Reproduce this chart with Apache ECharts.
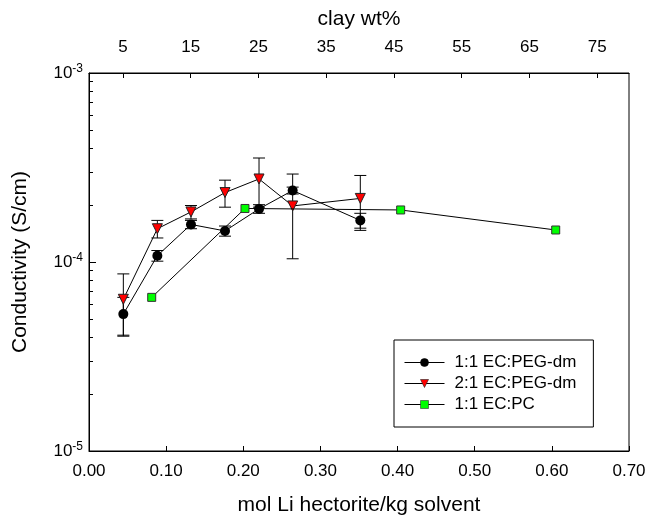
<!DOCTYPE html>
<html>
<head>
<meta charset="utf-8">
<script src="https://cdn.jsdelivr.net/npm/echarts@6/dist/echarts.min.js"></script>
<style>html,body{margin:0;padding:0;background:#fff}#c{width:647px;height:515px}</style>
</head>
<body>
<div id="c"></div>
<script>
// ---- data ----
const xBlack = [0.0445, 0.0886, 0.1322, 0.1763, 0.2204, 0.264, 0.3517];
const yBlack = [5.3e-5, 1.08e-4, 1.58e-4, 1.46e-4, 1.91e-4, 2.39e-4, 1.66e-4];
const errBlack = [1.2e-5, 0.07e-4, 0.08e-4, 0.09e-4, 0.10e-4, 0.10e-4, 0.15e-4];

const xRed = [0.0445, 0.0886, 0.1322, 0.1763, 0.2204, 0.264, 0.3517];
const yRed = [6.35e-5, 1.50e-4, 1.84e-4, 2.33e-4, 2.75e-4, 1.98e-4, 2.17e-4];
const errRed = [2.3e-5, 0.16e-4, 0.15e-4, 0.38e-4, 0.80e-4, 0.94e-4, 0.70e-4];

const xGreen = [0.0813, 0.2022, 0.404, 0.605];
const yGreen = [6.5e-5, 1.92e-4, 1.885e-4, 1.477e-4];

const seriesNames = ['1:1 EC:PEG-dm', '2:1 EC:PEG-dm', '1:1 EC:PC'];
const topTicks = [5, 15, 25, 35, 45, 55, 65, 75];
const yMajor = [1e-5, 1e-4, 1e-3];
const yMinor = [2e-5,3e-5,4e-5,5e-5,6e-5,7e-5,8e-5,9e-5,2e-4,3e-4,4e-4,5e-4,6e-4,7e-4,8e-4,9e-4];

const FONT = 'Liberation Sans, Arial, sans-serif';
const pts = (xs, ys) => xs.map((x, i) => [x, ys[i]]);
const errs = (xs, ys, es) => xs.map((x, i) => [x, ys[i] - es[i], ys[i] + es[i]]);

function errRender(params, api) {
  const x = api.value(0), lo = api.value(1), hi = api.value(2);
  const a = api.coord([x, lo]), b = api.coord([x, hi]);
  const w = 6, st = {stroke: '#000', lineWidth: 1};
  return {type: 'group', children: [
    {type: 'line', shape: {x1: a[0], y1: a[1], x2: b[0], y2: b[1]}, style: st},
    {type: 'line', shape: {x1: a[0]-w, y1: a[1], x2: a[0]+w, y2: a[1]}, style: st},
    {type: 'line', shape: {x1: b[0]-w, y1: b[1], x2: b[0]+w, y2: b[1]}, style: st}
  ]};
}

const chart = echarts.init(document.getElementById('c'), null, {renderer: 'canvas'});
const option = {
  animation: false,
  backgroundColor: '#fff',
  textStyle: {fontFamily: FONT, color: '#000'},
  grid: {left: 89, right: 18, top: 73, bottom: 64, show: true, borderColor: '#000', borderWidth: 1, outerBoundsMode: 'none', containLabel: false},
  xAxis: [
    {type: 'value', position: 'bottom', min: 0, max: 0.7, interval: 0.1,
     name: 'mol Li hectorite/kg solvent', nameLocation: 'middle', nameGap: 44,
     nameTextStyle: {fontSize: 21, color: '#000', fontFamily: FONT},
     axisLine: {show: true, lineStyle: {color: '#000', width: 1}},
     axisTick: {show: true, inside: true, length: 5, lineStyle: {color: '#000'}},
     axisLabel: {fontSize: 17, color: '#000', margin: 12, fontFamily: FONT, formatter: v => v.toFixed(2)},
     splitLine: {show: false}},
    {type: 'value', position: 'top', min: 0, max: 79.7,
     name: 'clay wt%', nameLocation: 'middle', nameGap: 43,
     nameTextStyle: {fontSize: 21, color: '#000', fontFamily: FONT},
     axisLine: {show: true, lineStyle: {color: '#000', width: 1}},
     axisTick: {show: true, inside: true, length: 5, customValues: topTicks, lineStyle: {color: '#000'}},
     axisLabel: {fontSize: 17, color: '#000', margin: 17, fontFamily: FONT, customValues: topTicks},
     splitLine: {show: false}}
  ],
  yAxis: [
    {type: 'log', logBase: 10, min: 1e-5, max: 1e-3, position: 'left',
     name: 'Conductivity (S/cm)', nameLocation: 'middle', nameGap: 58, nameRotate: 90,
     nameTextStyle: {fontSize: 21, color: '#000', fontFamily: FONT},
     axisLine: {show: true, lineStyle: {color: '#000', width: 1}},
     axisTick: {show: true, inside: true, length: 7, customValues: yMajor, lineStyle: {color: '#000'}},
     axisLabel: {color: '#000', margin: 6, customValues: yMajor,
       formatter: v => '{b|10}{s|' + Math.round(Math.log10(v)) + '}',
       rich: {b: {fontSize: 17, fontFamily: FONT, color: '#000'},
              s: {fontSize: 12, fontFamily: FONT, color: '#000', verticalAlign: 'top', padding: [0,0,8,0]}}},
     splitLine: {show: false}},
    {type: 'log', logBase: 10, min: 1e-5, max: 1e-3, position: 'left', offset: 0,
     axisLine: {show: false},
     axisTick: {show: true, inside: true, length: 4, customValues: yMinor, lineStyle: {color: '#000'}},
     axisLabel: {show: false},
     splitLine: {show: false}}
  ],
  legend: {
    show: true, orient: 'vertical', left: 394, top: 340,
    data: seriesNames,
    backgroundColor: '#fff', borderColor: '#000', borderWidth: 1,
    padding: [14, 17, 14, 10], itemGap: 4, itemWidth: 40, itemHeight: 10,
    lineStyle: {width: 1},
    itemStyle: {borderWidth: 0.6},
    textStyle: {fontSize: 17, fontFamily: FONT, color: '#000', padding: [0, 0, 0, 5]}
  },
  series: [
    {type: 'custom', name: 'errBlack', renderItem: errRender, xAxisIndex: 0, yAxisIndex: 0,
     encode: {x: 0, y: [1, 2]}, data: errs(xBlack, yBlack, errBlack), z: 1, silent: true},
    {type: 'custom', name: 'errRed', renderItem: errRender, xAxisIndex: 0, yAxisIndex: 0,
     encode: {x: 0, y: [1, 2]}, data: errs(xRed, yRed, errRed), z: 1, silent: true},
    {type: 'line', name: seriesNames[0], xAxisIndex: 0, yAxisIndex: 0, data: pts(xBlack, yBlack),
     symbol: 'circle', symbolSize: 10, showAllSymbol: true, z: 3,
     lineStyle: {color: '#000', width: 1}, itemStyle: {color: '#000', borderColor: '#000', borderWidth: 0}},
    {type: 'line', name: seriesNames[1], xAxisIndex: 0, yAxisIndex: 0, data: pts(xRed, yRed),
     symbol: 'triangle', symbolRotate: 180, symbolSize: 10, showAllSymbol: true, z: 4,
     lineStyle: {color: '#000', width: 1}, itemStyle: {color: '#ff0000', borderColor: '#222', borderWidth: 1}},
    {type: 'line', name: seriesNames[2], xAxisIndex: 0, yAxisIndex: 0, data: pts(xGreen, yGreen),
     symbol: 'rect', symbolSize: 8, showAllSymbol: true, z: 5,
     lineStyle: {color: '#000', width: 1}, itemStyle: {color: '#00ff00', borderColor: '#333', borderWidth: 1}}
  ]
};
chart.setOption(option);
</script>
</body>
</html>
